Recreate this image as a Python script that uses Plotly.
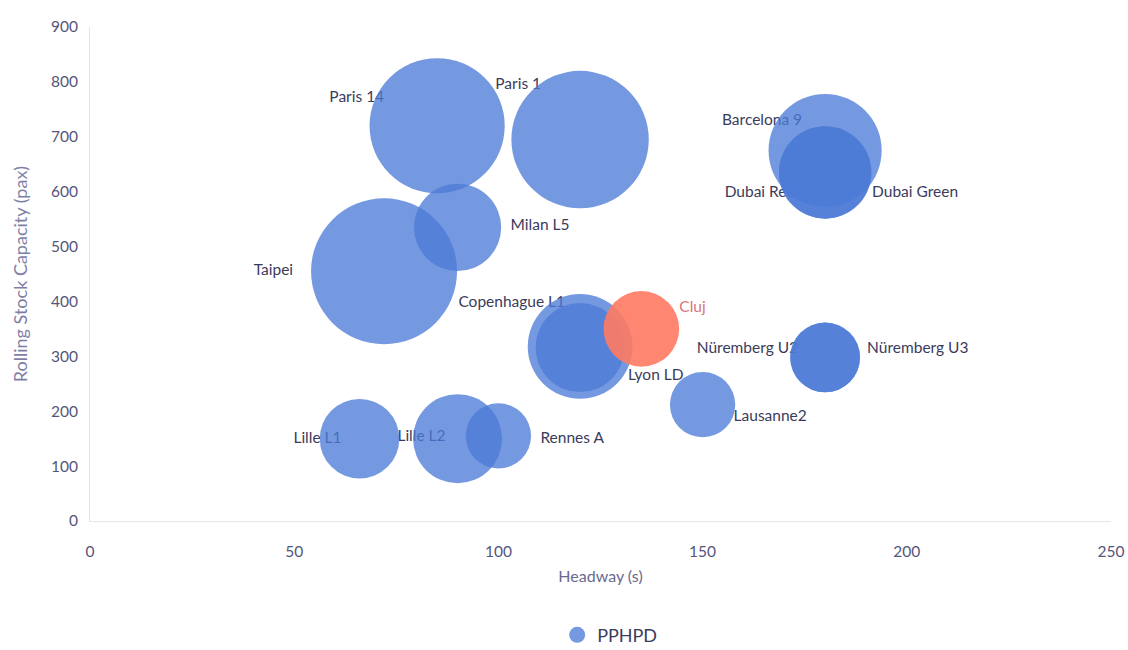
import plotly.graph_objects as go

# Metro lines: headway (s), rolling stock capacity (pax), PPHPD
lines = ["Paris 14", "Paris 1", "Barcelona 9", "Dubai Red", "Dubai Green",
         "Milan L5", "Taipei", "Copenhague L1", "Lyon LD", "Cluj",
         "Nüremberg U2", "Nüremberg U3", "Lausanne2", "Lille L1", "Lille L2",
         "Rennes A"]
headway = [85, 120, 180, 180, 180, 90, 72, 120, 120, 135, 180, 180, 150, 66, 90, 100]
capacity = [720, 695, 675, 635, 635, 535, 455, 318, 316, 350, 298, 298, 212, 150, 150, 155]
pphpd = [30000, 31000, 21000, 14000, 14000, 12500, 35000, 18000, 13000, 9400,
         8000, 8000, 7000, 10400, 13000, 7000]

# Plot area geometry (px)
W, H = 1128, 650
ML, MR, MT, MB = 90, 17, 27, 129
X_RANGE = (0, 250)
Y_RANGE = (0, 900)
px_x = (W - ML - MR) / (X_RANGE[1] - X_RANGE[0])
px_y = (H - MT - MB) / (Y_RANGE[1] - Y_RANGE[0])

# Label placement: side of the bubble and pixel offset of the text anchor
label_side = ["left", "left", "left", "left", "right", "right", "left", "left",
              "right", "right", "left", "right", "right", "left", "left", "right"]
label_dx = [-53, -39, -23, -30, 47, 53, -91, -15, 48, 38, -27, 42, 31, -18, -12, 42]
label_dy = [-28, -54, -29, 21, 21, -1, 0, -43, 29, -21, -8, -8, 12, 0, -2, 3]

BLUE = "rgba(75,122,215,0.77)"
SALMON = "rgba(255,122,98,0.9)"
colors = [SALMON if n == "Cluj" else BLUE for n in lines]
label_colors = ["#d9737a" if n == "Cluj" else "#3b3b5c" for n in lines]

lx = [x + dx / px_x for x, dx in zip(headway, label_dx)]
ly = [y - dy / px_y for y, dy in zip(capacity, label_dy)]
lpos = ["middle left" if s == "left" else "middle right" for s in label_side]

MAX_DIAM = 146
sizeref = 2.0 * max(pphpd) / MAX_DIAM ** 2

FONT = "Lato, 'Open Sans', sans-serif"

fig = go.Figure()

# Labels sit beneath the translucent bubbles
fig.add_trace(go.Scatter(
    x=lx, y=ly, mode="text", text=lines, textposition=lpos,
    textfont=dict(family=FONT, size=15.5, color=label_colors),
    showlegend=False, hoverinfo="skip",
))

fig.add_trace(go.Scatter(
    x=headway, y=capacity, mode="markers", name="PPHPD",
    text=lines,
    marker=dict(size=pphpd, sizemode="area", sizeref=sizeref, opacity=1,
                color=colors, line=dict(width=0)),
    hovertemplate="%{text}<br>Headway %{x} s<br>Capacity %{y} pax<br>PPHPD %{marker.size}<extra></extra>",
))

tick_font = dict(family=FONT, size=15.5, color="#55557a")

fig.update_layout(
    width=W, height=H,
    margin=dict(l=ML, r=MR, t=MT, b=MB, autoexpand=False),
    paper_bgcolor="white", plot_bgcolor="white",
    font=dict(family=FONT),
    showlegend=True,
    legend=dict(orientation="h", x=0.509, xanchor="center", y=-0.231, yanchor="middle",
                font=dict(size=18, color="#3b3b5c"), itemsizing="trace"),
    xaxis=dict(
        range=list(X_RANGE), tickvals=[0, 50, 100, 150, 200, 250],
        showgrid=False, zeroline=False, showline=True, linecolor="#e6e6e6", linewidth=1,
        ticks="", tickfont=tick_font, ticklabelstandoff=16,
        title=dict(text="Headway (s)", standoff=12,
                   font=dict(size=16, color="#6a6a8e")),
    ),
    yaxis=dict(
        range=list(Y_RANGE), tickvals=[0, 100, 200, 300, 400, 500, 600, 700, 800, 900],
        showgrid=False, zeroline=False, showline=True, linecolor="#e6e6e6", linewidth=1,
        ticks="", tickfont=tick_font, ticklabelstandoff=8,
        title=dict(text="Rolling Stock Capacity (pax)", standoff=18,
                   font=dict(size=18, color="#7f7fa6")),
    ),
)

fig.write_html("out.html")
